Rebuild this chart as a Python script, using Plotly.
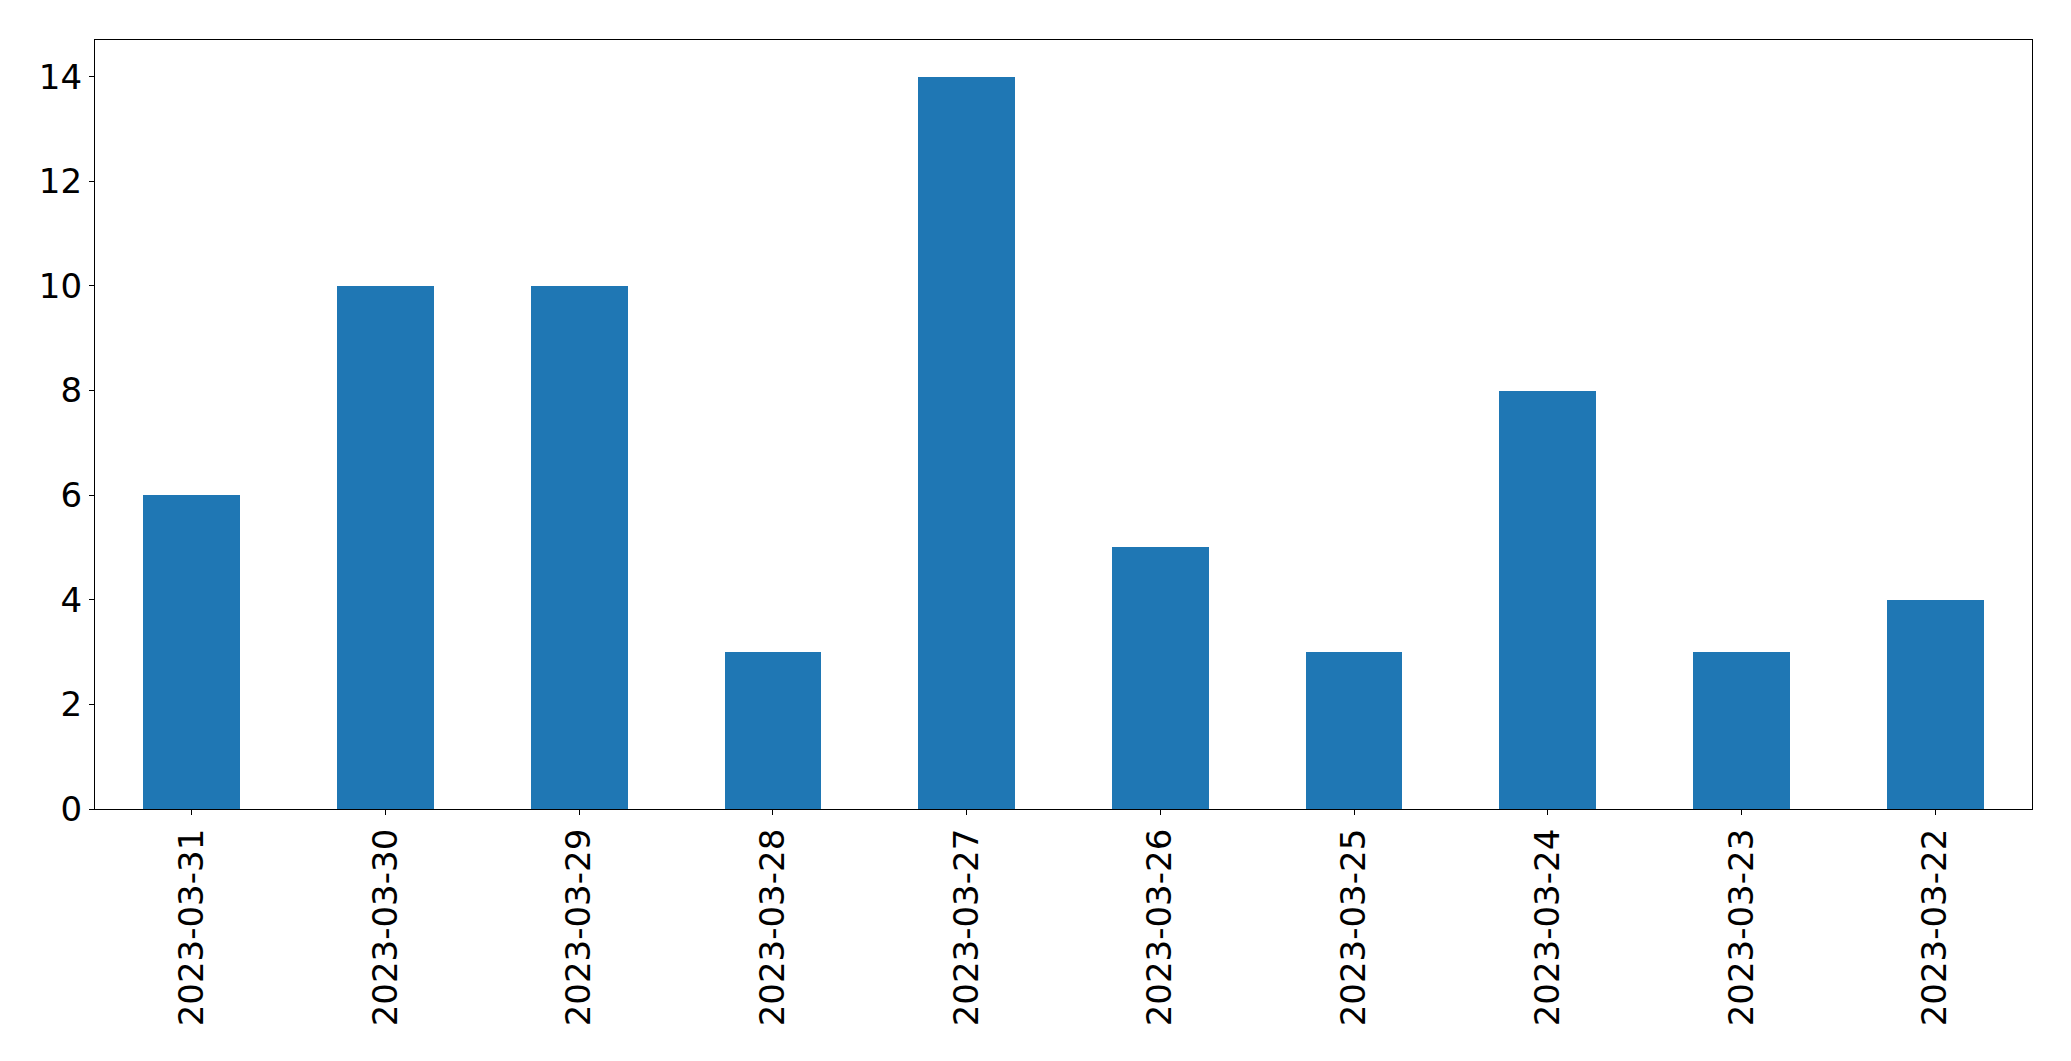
import plotly.graph_objects as go

dates = ["2023-03-31", "2023-03-30", "2023-03-29", "2023-03-28", "2023-03-27",
         "2023-03-26", "2023-03-25", "2023-03-24", "2023-03-23", "2023-03-22"]
counts = [6, 10, 10, 3, 14, 5, 3, 8, 3, 4]
y_ticks = [0, 2, 4, 6, 8, 10, 12, 14]

fig = go.Figure(go.Bar(x=list(range(len(dates))), y=counts, width=0.5,
                       marker=dict(color="#1f77b4", line=dict(width=0))))

# page body has an 8px default margin
W, H = 2063, 1053
L, R, T, B = 86.5, 39, 31.5, 252

fig.update_layout(
    width=W, height=H,
    margin=dict(l=L, r=R, t=T, b=B, pad=0),
    paper_bgcolor="white", plot_bgcolor="white",
    font=dict(family="DejaVu Sans", size=34, color="black"),
    showlegend=False,
    bargap=0,
)
fig.update_xaxes(
    range=[-0.5, len(dates) - 0.5],
    tickmode="array", tickvals=list(range(len(dates))), ticktext=dates,
    tickangle=-90, ticks="outside", ticklen=5, tickwidth=1.2, tickcolor="black",
    showline=True, linecolor="black", linewidth=1.3, mirror=True,
    showgrid=False, zeroline=False, automargin=False,
)
fig.update_yaxes(
    range=[0, 14.7],
    tickmode="array", tickvals=y_ticks, ticktext=[str(v) for v in y_ticks],
    ticks="outside", ticklen=5, tickwidth=1.2, tickcolor="black",
    showline=True, linecolor="black", linewidth=1.3, mirror=True,
    showgrid=False, zeroline=False, automargin=False,
)

fig.write_html("out.html")
